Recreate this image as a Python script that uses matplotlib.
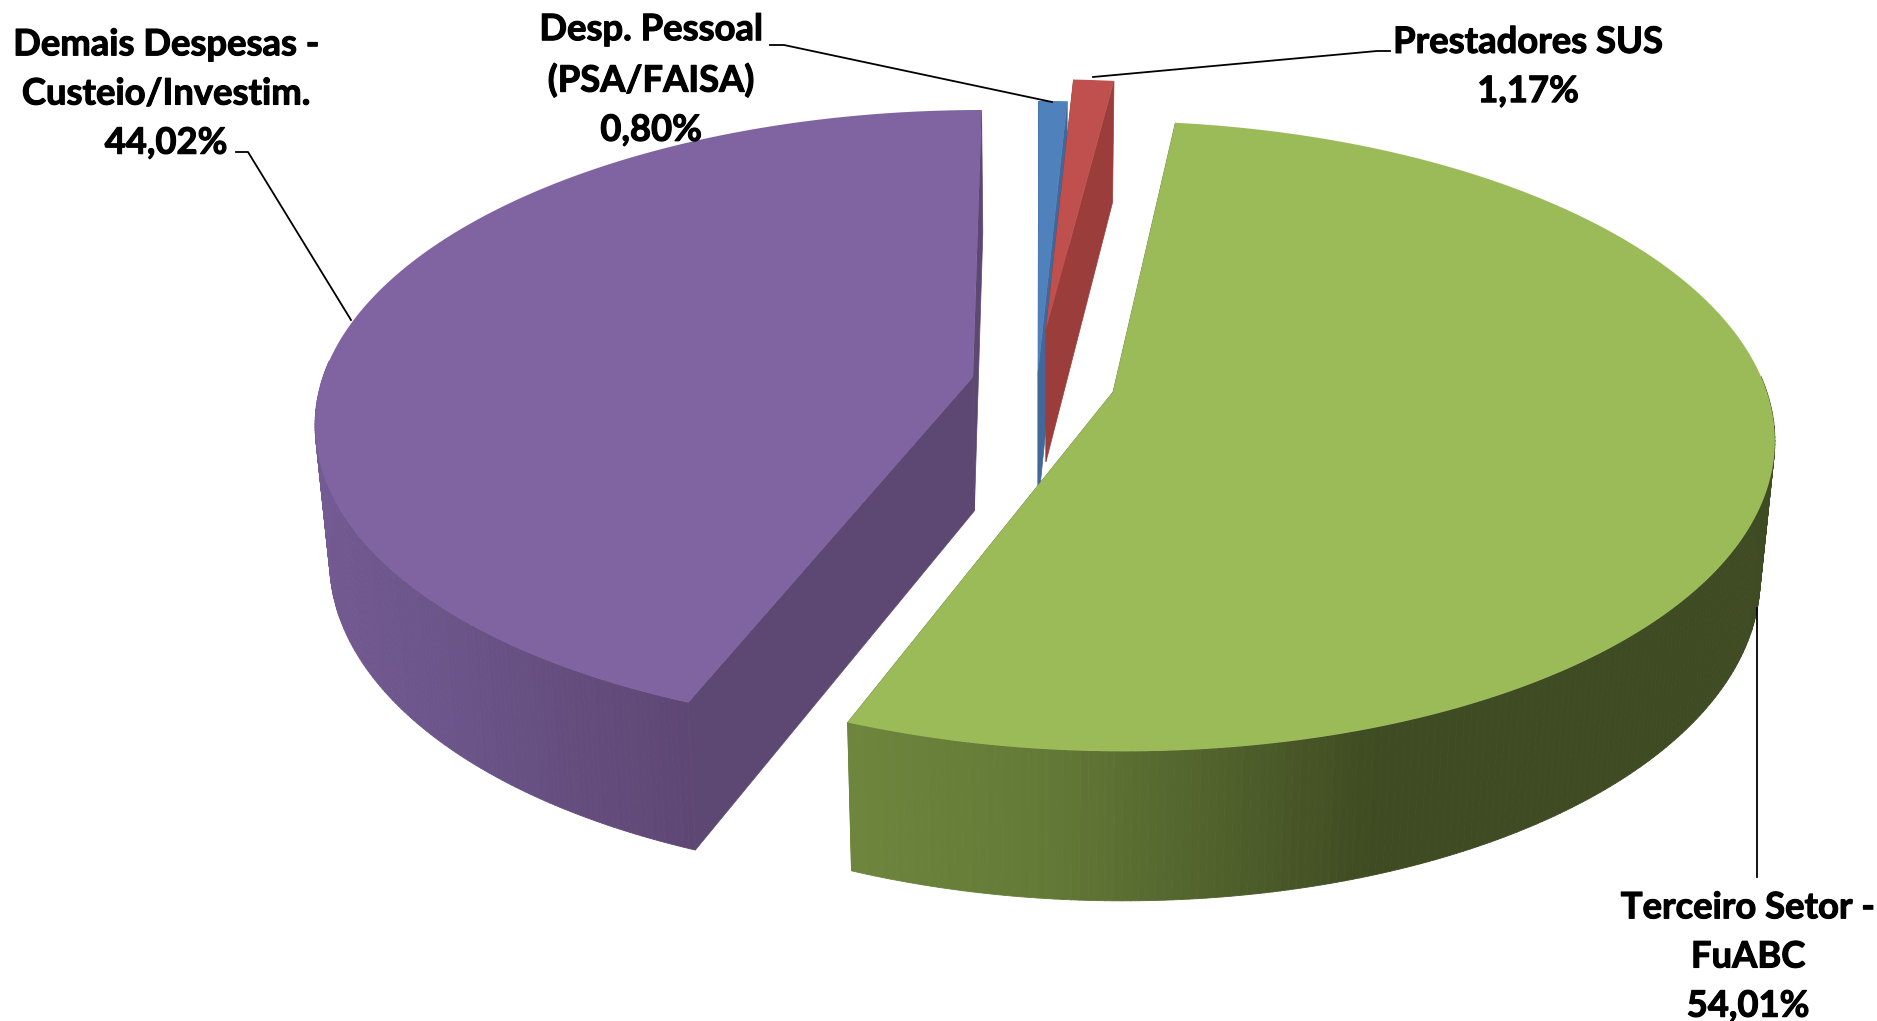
import numpy as np
import matplotlib.pyplot as plt
import matplotlib.patheffects as pe
from matplotlib.collections import PolyCollection
from matplotlib.colors import to_rgb

# dados do grafico
categorias = ['Desp. Pessoal\n(PSA/FAISA)', 'Prestadores SUS', 'Terceiro Setor -\nFuABC',
              'Demais Despesas -\nCusteio/Investim.']
valores = [0.80, 1.17, 54.01, 44.02]

# cores: topo e parede de corte
cor_topo = ['#4f81bd', '#c0504d', '#9bbb59', '#8064a2']
cor_corte = ['#41689a', '#9a3d3b', '#6f873e', '#5d4874']

# vertice de cada fatia depois de destacada (pixels)
vert_x = [1038, 1046, 1113, 973]
vert_y = [372, 330, 392, 377]

# ajuste fino do raio por fatia
esc_x = [1, 0.97, 1.006, 1]
esc_y = [1, 0.925, 1, 0.985]

# posicao dos rotulos
rot_x = [651, 1528, 1748, 166]
rot_y = [80, 67, 957, 94]

# linhas de chamada
chamada_x = [[770, 784, 1052], [1390, 1377, 1093], [1757, 1757], [236, 248, 351]]
chamada_y = [[45, 45, 102], [51, 51, 77], [877, 608], [152, 152, 320]]

# perspectiva
RX, RY, P, X0 = 650, 309, 0.14, 1043


def topo(u, v, i):
    vx, vy = vert_x[i], vert_y[i]
    s = 1 / (1 + P * v)
    return vx + (RX * esc_x[i] * u - P * (vx - X0) * v) * s, vy - RY * esc_y[i] * v * s


def base(x, y):
    return X0 + (x - X0) * 0.98, y + 118 + 0.042 * y


def sombra(u, pos, cores):
    # gradiente da parede externa, conforme a posicao horizontal
    rgb = np.array([to_rgb(c) for c in cores])
    return np.column_stack([np.interp(u, pos, rgb[:, i]) for i in range(3)])


# gradientes das paredes externas (so verde e roxo aparecem)
grad_pos = [[-1, 1], [-1, 1], [-0.40, -0.10, 0.34, 1], [-1, -0.70, -0.30, 0]]
grad_cor = [['#41689a', '#41689a'], ['#9a3d3b', '#9a3d3b'],
            ['#6f873e', '#637a37', '#3f4b22', '#3f4b22'],
            ['#745b93', '#6a5488', '#5d4470', '#5d4470']]

fig = plt.figure(figsize=(18.77, 10.21), dpi=100)
ax = fig.add_axes([0, 0, 1, 1])
ax.set_xlim(0, 1877)
ax.set_ylim(1021, 0)
ax.axis('off')

limites = np.cumsum([0] + valores) / sum(valores) * 2 * np.pi

# de tras para frente: azul, vermelho, roxo, verde
for i in [0, 1, 3, 2]:
    th = np.linspace(limites[i], limites[i + 1], 300)
    u, v = np.sin(th), np.cos(th)
    x, y = topo(u, v, i)
    xb, yb = base(x, y)
    ax0, ay0 = base(vert_x[i], vert_y[i])

    # paredes de corte
    for k in [0, -1]:
        ax.fill([vert_x[i], x[k], xb[k], ax0], [vert_y[i], y[k], yb[k], ay0],
                color=cor_corte[i], lw=0.5, zorder=i * 3 + 1)

    # parede externa, em faixas
    faixas, cores = [], []
    tons = sombra(u, grad_pos[i], grad_cor[i])
    for j in range(len(th) - 1):
        if v[j] < 0.05 or v[j + 1] < 0.05:
            faixas.append([(x[j], y[j]), (x[j + 1], y[j + 1]), (xb[j + 1], yb[j + 1]), (xb[j], yb[j])])
            cores.append(tons[j])
    if faixas:
        ax.add_collection(PolyCollection(faixas, facecolors=cores, edgecolors=cores,
                                         linewidths=0.6, zorder=i * 3 + 2))

    # topo
    ax.fill(np.r_[vert_x[i], x], np.r_[vert_y[i], y], color=cor_topo[i], lw=0, zorder=i * 3 + 3)

for i in range(4):
    rotulo = categorias[i] + '\n' + f'{valores[i]:.2f}'.replace('.', ',') + '%'
    ax.text(rot_x[i], rot_y[i], rotulo, ha='center', va='center', fontfamily='Lato',
            fontweight='bold', fontsize=26.2, linespacing=1.6, color='black', zorder=30,
            path_effects=[pe.withStroke(linewidth=0.8, foreground='black')])
    ax.plot(chamada_x[i], chamada_y[i], color='black', lw=1.3, zorder=29)

fig.savefig('out.png', dpi=100)
